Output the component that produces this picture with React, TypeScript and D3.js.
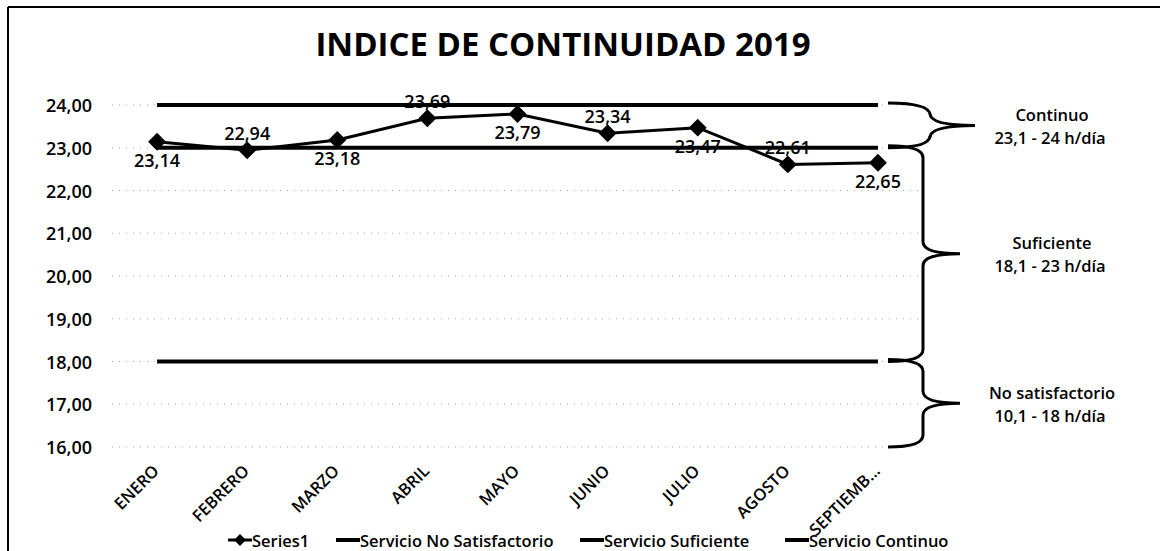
import * as d3 from "d3";

const meses = ["ENERO", "FEBRERO", "MARZO", "ABRIL", "MAYO", "JUNIO", "JULIO", "AGOSTO", "SEPTIEMB…"];
const series1 = [23.14, 22.94, 23.18, 23.69, 23.79, 23.34, 23.47, 22.61, 22.65];
const servicioNoSatisfactorio = [18, 18, 18, 18, 18, 18, 18, 18, 18];
const servicioSuficiente = [23, 23, 23, 23, 23, 23, 23, 23, 23];
const servicioContinuo = [24, 24, 24, 24, 24, 24, 24, 24, 24];
const yTicks = [16, 17, 18, 19, 20, 21, 22, 23, 24];

const legendNames = ["Series1", "Servicio No Satisfactorio", "Servicio Suficiente", "Servicio Continuo"];

// rangos de servicio (llaves a la derecha)
const bandNames = ["Continuo", "Suficiente", "No satisfactorio"];
const bandRanges = ["23,1 - 24 h/día", "18,1 - 23 h/día", "10,1 - 18 h/día"];
const bandTop = [24, 23, 18];
const bandBottom = [23, 18, 16];

const W = 1160;
const H = 551;
const font = "'Open Sans', 'DejaVu Sans', sans-serif";

export default function App() {
  const x = d3.scalePoint<string>().domain(meses).range([112, 923]).padding(0.5);
  const y = d3.scaleLinear().domain([16, 24]).range([447, 105]);
  const fmt = (v: number) => d3.format(".2f")(v).replace(".", ",");

  const line = d3
    .line<number>()
    .x((_, i) => x(meses[i])!)
    .y((d) => y(d));

  const diamond = d3.symbol().type(d3.symbolSquare).size(160)()!;

  const refLines = [servicioNoSatisfactorio, servicioSuficiente, servicioContinuo];

  const brace = (yTop: number, yBot: number, tip: number, xv: number) => {
    const x0 = 888;
    const r = 12;
    const ym = (yTop + yBot) / 2;
    const p = d3.path();
    p.moveTo(x0, yTop);
    p.quadraticCurveTo(xv, yTop, xv, yTop + r);
    p.lineTo(xv, ym - r);
    p.quadraticCurveTo(xv, ym, tip, ym);
    p.quadraticCurveTo(xv, ym, xv, ym + r);
    p.lineTo(xv, yBot - r);
    p.quadraticCurveTo(xv, yBot, x0, yBot);
    return p.toString();
  };

  // legend layout
  const legendX = [228, 336, 580, 785];
  const legendY = 540;

  return (
    <svg
      width={W}
      height={H}
      style={{ position: "absolute", left: 0, top: 0, background: "#fff" }}
      fontFamily={font}
    >
      <rect x={0} y={0} width={W} height={H} fill="#fff" />
      {/* marco */}
      <line x1={8} y1={7} x2={W} y2={7} stroke="#000" strokeWidth={2} />
      <line x1={8} y1={7} x2={8} y2={H} stroke="#000" strokeWidth={2} />

      <text x={563} y={56} textAnchor="middle" fontSize={33} fontWeight={700}>
        INDICE DE CONTINUIDAD 2019
      </text>

      {/* grid */}
      {yTicks.map((t) => (
        <g key={t}>
          <line
            x1={112}
            x2={923}
            y1={y(t)}
            y2={y(t)}
            stroke="#000"
            strokeOpacity={0.35}
            strokeDasharray="1 6"
          />
          <text x={92} y={y(t)} textAnchor="end" dominantBaseline="central" fontSize={18} fontWeight={600}>
            {fmt(t)}
          </text>
        </g>
      ))}

      {/* lineas de referencia */}
      {refLines.map((vals, k) => (
        <path key={k} d={line(vals)!} fill="none" stroke="#000" strokeWidth={4} />
      ))}

      {/* serie */}
      <path d={line(series1)!} fill="none" stroke="#000" strokeWidth={3} />
      {series1.map((v, i) => (
        <path
          key={i}
          d={diamond}
          transform={`translate(${x(meses[i])},${y(v)}) rotate(45)`}
          fill="#000"
        />
      ))}
      {series1.map((v, i) => (
        <text
          key={"l" + i}
          x={x(meses[i])}
          y={y(v) + (i % 2 === 0 ? 18 : -17)}
          textAnchor="middle"
          dominantBaseline="central"
          fontSize={18}
          fontWeight={600}
        >
          {fmt(v)}
        </text>
      ))}

      {/* eje x */}
      {meses.map((m) => (
        <text
          key={m}
          transform={`translate(${x(m)! + 3},${472}) rotate(-45)`}
          textAnchor="end"
          fontSize={16.5}
          fontWeight={600}
        >
          {m}
        </text>
      ))}

      {/* llaves */}
      {bandNames.map((n, i) => {
        const ym = (y(bandTop[i]) + y(bandBottom[i])) / 2;
        return (
          <g key={n}>
            <path
              d={brace(y(bandTop[i]) - 2, y(bandBottom[i]), i === 0 ? 975 : 960, i === 0 ? 930 : 923)}
              fill="none"
              stroke="#000"
              strokeWidth={3}
            />
            <text x={1052} y={ym - 12} textAnchor="middle" dominantBaseline="central" fontSize={16.5} fontWeight={600}>
              {n}
            </text>
            <text x={1050} y={ym + 11} textAnchor="middle" dominantBaseline="central" fontSize={16.5} fontWeight={600}>
              {bandRanges[i]}
            </text>
          </g>
        );
      })}

      {/* leyenda */}
      {legendNames.map((n, i) => (
        <g key={n} transform={`translate(${legendX[i]},${legendY})`}>
          <line x1={0} x2={24} y1={0} y2={0} stroke="#000" strokeWidth={i === 0 ? 3 : 4} />
          {i === 0 && (
            <path d={d3.symbol().type(d3.symbolSquare).size(70)()!} transform="translate(12,0) rotate(45)" />
          )}
          <text x={24} y={0} dominantBaseline="central" fontSize={16.5} fontWeight={600}>
            {n}
          </text>
        </g>
      ))}
    </svg>
  );
}
